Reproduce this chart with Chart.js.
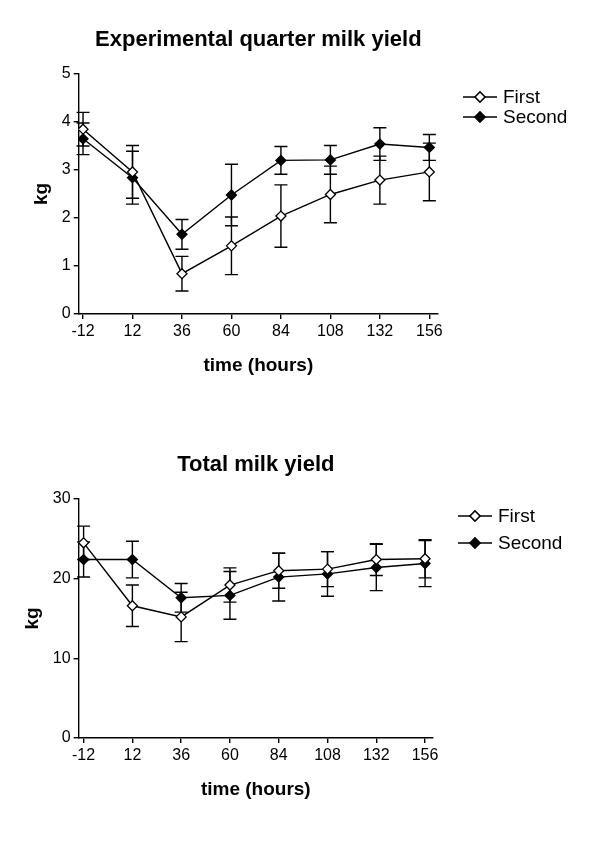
<!DOCTYPE html>
<html>
<head>
<meta charset="utf-8">
<script src="https://cdn.jsdelivr.net/npm/chart.js@4/dist/chart.umd.min.js"></script>
<style>
  body { margin: 0; background: #fff; }
  .box { position: absolute; left: 0; width: 600px; }
  #box1 { top: 0; height: 394px; }
  #box2 { top: 425px; height: 393px; }
</style>
</head>
<body>
<div class="box" id="box1"><canvas id="quarterChart"></canvas></div>
<div class="box" id="box2"><canvas id="totalChart"></canvas></div>
<script>
// time points (hours)
const timeLabels = [-12, 12, 36, 60, 84, 108, 132, 156];

// Experimental quarter milk yield (kg), mean and error
const quarterFirst = [3.85, 2.96, 0.84, 1.42, 2.04, 2.49, 2.79, 2.96];
const quarterFirstErr = [0.35, 0.55, 0.36, 0.60, 0.65, 0.59, 0.50, 0.60];
const quarterSecond = [3.65, 2.84, 1.66, 2.48, 3.20, 3.21, 3.54, 3.47];
const quarterSecondErr = [0.33, 0.55, 0.31, 0.64, 0.29, 0.30, 0.34, 0.27];

// Total milk yield (kg), mean and error
const totalFirst = [24.5, 16.6, 15.2, 19.2, 21.0, 21.2, 22.4, 22.5];
const totalFirstErr = [2.1, 2.6, 3.1, 2.15, 2.2, 2.2, 2.0, 2.4];
const totalSecond = [22.4, 22.4, 17.6, 17.9, 20.2, 20.6, 21.4, 21.9];
const totalSecondErr = [2.2, 2.3, 1.8, 3.0, 3.0, 2.8, 2.9, 2.9];

const FONT = "'Liberation Sans', Arial, sans-serif";

// vertical error bars with caps, drawn under the lines and markers
const errorBars = {
  id: "errorBars",
  beforeDatasetsDraw(chart) {
    const ctx = chart.ctx;
    const xs = chart.scales.x, ys = chart.scales.y;
    ctx.save();
    ctx.strokeStyle = "#000";
    ctx.lineWidth = 1.4;
    chart.data.datasets.forEach(ds => {
      ds.data.forEach((p, i) => {
        const e = ds.errors[i];
        const x = xs.getPixelForValue(p.x);
        const top = ys.getPixelForValue(p.y + e);
        const bot = ys.getPixelForValue(p.y - e);
        ctx.beginPath();
        ctx.moveTo(x, top); ctx.lineTo(x, bot);
        ctx.moveTo(x - 6.5, top); ctx.lineTo(x + 6.5, top);
        ctx.moveTo(x - 6.5, bot); ctx.lineTo(x + 6.5, bot);
        ctx.stroke();
      });
    });
    ctx.restore();
  }
};

// legend with a short line through the marker
const lineLegend = {
  id: "lineLegend",
  afterDraw(chart, args, opts) {
    const ctx = chart.ctx;
    ctx.save();
    chart.data.datasets.forEach((ds, i) => {
      const y = opts.y + i * opts.dy;
      ctx.strokeStyle = "#000";
      ctx.lineWidth = 1.4;
      ctx.beginPath();
      ctx.moveTo(opts.x, y); ctx.lineTo(opts.x + 34, y);
      ctx.stroke();
      ctx.fillStyle = ds.pointBackgroundColor;
      Chart.helpers.drawPoint(ctx, { pointStyle: "rectRot", radius: 5, borderWidth: 1.3, rotation: 0 }, opts.x + 17, y);
      ctx.fill();
      ctx.stroke();
      ctx.fillStyle = "#000";
      ctx.font = "19px " + FONT;
      ctx.textBaseline = "middle";
      ctx.fillText(ds.label, opts.x + 40, y + 1);
    });
    ctx.restore();
  }
};

function series(label, values, errs, fill) {
  return {
    label: label,
    data: timeLabels.map((t, i) => ({ x: t, y: values[i] })),
    errors: errs,
    borderColor: "#000",
    borderWidth: 1.4,
    pointStyle: "rectRot",
    pointRadius: 5,
    pointHoverRadius: 5,
    pointBorderWidth: 1.3,
    pointBorderColor: "#000",
    pointBackgroundColor: fill,
    tension: 0
  };
}

function makeChart(id, title, first, firstErr, second, secondErr, yMax, yStep, xMin, xMax, padLeft, padRight, legend) {
  return new Chart(document.getElementById(id), {
    type: "line",
    data: {
      datasets: [
        series("First", first, firstErr, "#fff"),
        series("Second", second, secondErr, "#000")
      ]
    },
    options: {
      responsive: true,
      maintainAspectRatio: false,
      animation: false,
      layout: { padding: { left: padLeft, right: padRight, top: 0, bottom: 13 } },
      plugins: {
        legend: { display: false },
        tooltip: { enabled: false },
        title: {
          display: true,
          text: title,
          fullSize: false,
          color: "#000",
          font: { family: FONT, size: 22, weight: "bold" },
          padding: { top: 26.8, bottom: 20.8 }
        },
        lineLegend: legend
      },
      scales: {
        x: {
          type: "linear",
          min: xMin,
          max: xMax,
          afterBuildTicks: scale => { scale.ticks = timeLabels.map(v => ({ value: v })); },
          ticks: {
            color: "#000",
            padding: 3,
            maxRotation: 0,
            font: { family: FONT, size: 16 },
            callback: v => String(v)
          },
          grid: { drawOnChartArea: false, drawTicks: true, tickLength: 5, color: "#000", lineWidth: 1.4 },
          border: { display: true, color: "#000", width: 1.4 },
          title: {
            display: true,
            text: "time (hours)",
            color: "#000",
            font: { family: FONT, size: 19, weight: "bold" },
            padding: { top: 10, bottom: 4 }
          }
        },
        y: {
          min: 0,
          max: yMax,
          ticks: {
            stepSize: yStep,
            color: "#000",
            padding: 3,
            font: { family: FONT, size: 16 }
          },
          grid: { drawOnChartArea: false, drawTicks: true, tickLength: 5, color: "#000", lineWidth: 1.4 },
          border: { display: true, color: "#000", width: 1.4 },
          title: {
            display: true,
            text: "kg",
            color: "#000",
            font: { family: FONT, size: 19, weight: "bold" },
            padding: { top: 2, bottom: 6 }
          }
        }
      }
    },
    plugins: [errorBars, lineLegend]
  });
}

makeChart("quarterChart", "Experimental quarter milk yield",
  quarterFirst, quarterFirstErr, quarterSecond, quarterSecondErr,
  5, 1, -14.1, 160.2, 28, 162, { x: 463, y: 97, dy: 20 });

makeChart("totalChart", "Total milk yield",
  totalFirst, totalFirstErr, totalSecond, totalSecondErr,
  30, 10, -14.46, 159.9, 19, 167, { x: 458, y: 91, dy: 27 });
</script>
</body>
</html>
